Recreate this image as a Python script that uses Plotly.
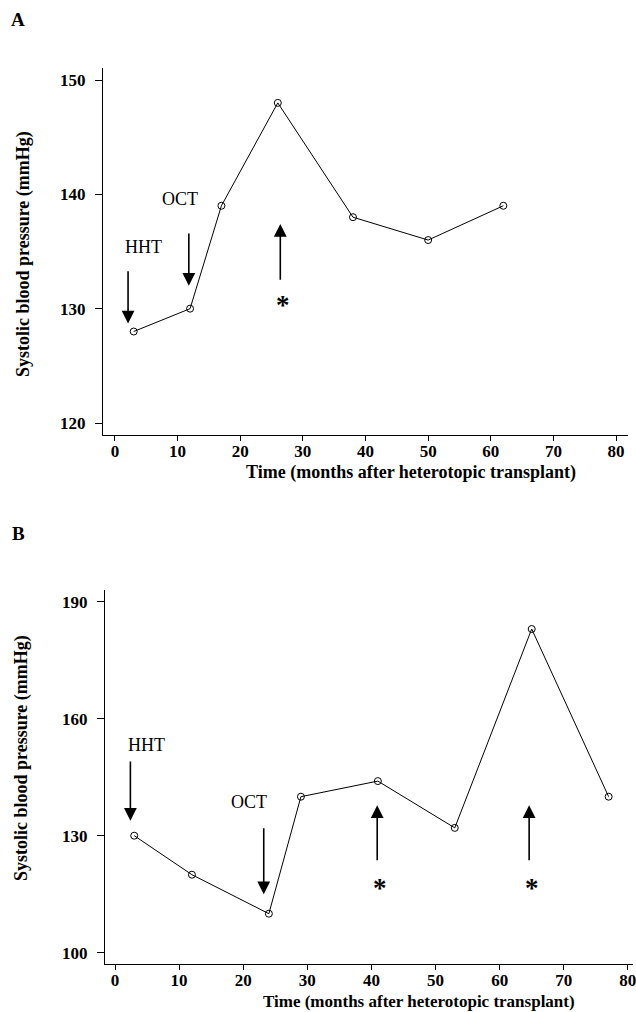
import plotly.graph_objects as go

# Panel A data
a_months = [3, 12, 17, 26, 38, 50, 62]
a_sbp = [128, 130, 139, 148, 138, 136, 139]
# Panel B data
b_months = [3, 12, 24, 29, 41, 53, 65, 77]
b_sbp = [130, 120, 110, 140, 144, 132, 183, 140]

a_yticks = [120, 130, 140, 150]
b_yticks = [100, 130, 160, 190]
x_ticks = [0, 10, 20, 30, 40, 50, 60, 70, 80]

W, H = 636, 1012
FONT = "Liberation Serif, Times New Roman, serif"

def px(v):
    return v / W

def py(v):
    return 1 - v / H

fig = go.Figure()
line_style = dict(color="black", width=1)
marker_style = dict(symbol="circle-open", size=7, color="black", line=dict(width=1))

fig.add_trace(go.Scatter(x=a_months, y=a_sbp, mode="lines+markers", line=line_style,
                         marker=marker_style, xaxis="x", yaxis="y", showlegend=False))
fig.add_trace(go.Scatter(x=b_months, y=b_sbp, mode="lines+markers", line=line_style,
                         marker=marker_style, xaxis="x2", yaxis="y2", showlegend=False))

axis_common = dict(showline=True, linecolor="black", linewidth=1, showgrid=False, zeroline=False,
                   ticks="outside", tickcolor="black", tickwidth=1, automargin=False,
                   ticklabeloverflow="allow",
                   tickfont=dict(family=FONT, size=17, color="black", weight="bold"))
x_common = dict(ticklen=5, ticklabelstandoff=-4, **axis_common)
y_common = dict(ticklen=7, ticklabelstandoff=6, **axis_common)

fig.update_layout(
    width=W, height=H,
    margin=dict(l=0, r=0, t=0, b=0),
    paper_bgcolor="white", plot_bgcolor="white",
    xaxis=dict(domain=[px(103), px(628)], range=[-1.9, 81.9], tickvals=x_ticks, anchor="y", **x_common),
    yaxis=dict(domain=[py(435), py(68)], range=[118.95, 151.05], tickvals=a_yticks, anchor="x", **y_common),
    xaxis2=dict(domain=[px(105), px(633)], range=[-1.56, 80.8], tickvals=x_ticks, anchor="y2", **x_common),
    yaxis2=dict(domain=[py(964), py(590)], range=[97.1, 193.0], tickvals=b_yticks, anchor="x2", **y_common),
)

ann = []
txt_font = dict(family=FONT, size=18, color="black")
star_font = dict(family=FONT, size=27, color="black", weight="bold")

def arrow(xr, yr, x, y_tail, y_tip):
    return dict(x=x, y=y_tip, ax=x, ay=y_tail, xref=xr, yref=yr, axref=xr, ayref=yr,
                text="", showarrow=True, arrowhead=2, arrowsize=1.6, arrowwidth=1.6,
                arrowcolor="black")

def label(xr, yr, x, y, t, f):
    return dict(x=x, y=y, xref=xr, yref=yr, text=t, showarrow=False, font=f)

# Panel A
ann += [
    label("x", "y", 4.6, 135.4, "HHT", txt_font),
    arrow("x", "y", 2.1, 133.4, 128.7),
    label("x", "y", 10.4, 139.6, "OCT", txt_font),
    arrow("x", "y", 11.8, 136.7, 132.0),
    arrow("x", "y", 26.4, 132.4, 137.4),
    label("x", "y", 26.8, 130.3, "*", star_font),
]
# Panel B
ann += [
    label("x2", "y2", 4.9, 153.3, "HHT", txt_font),
    arrow("x2", "y2", 2.4, 149.4, 133.8),
    label("x2", "y2", 20.9, 138.7, "OCT", txt_font),
    arrow("x2", "y2", 23.2, 132.3, 115.0),
    arrow("x2", "y2", 40.9, 123.3, 137.8),
    label("x2", "y2", 41.3, 116.6, "*", star_font),
    arrow("x2", "y2", 64.6, 123.3, 137.8),
    label("x2", "y2", 65.1, 116.6, "*", star_font),
]
# Panel letters
letter_font = dict(family=FONT, size=19, color="black", weight="bold")
ann += [
    dict(x=px(18), y=py(20), xref="paper", yref="paper", text="A", showarrow=False,
         xanchor="center", yanchor="middle", font=letter_font),
    dict(x=px(18), y=py(533), xref="paper", yref="paper", text="B", showarrow=False,
         xanchor="center", yanchor="middle", font=letter_font),
]
# Y axis titles
yt_font = dict(family=FONT, size=18, color="black", weight="bold")
ytitle = "Systolic blood pressure (mmHg)"
ann += [
    dict(x=px(23), y=py(254), xref="paper", yref="paper", text=ytitle, textangle=-90,
         showarrow=False, xanchor="center", yanchor="middle", font=yt_font),
    dict(x=px(21), y=py(758), xref="paper", yref="paper", text=ytitle, textangle=-90,
         showarrow=False, xanchor="center", yanchor="middle", font=yt_font),
]
# X axis titles (offset to the right as in the original)
xtitle = "Time (months after heterotopic transplant)"
ann += [
    dict(x=px(411), y=py(472), xref="paper", yref="paper", text=xtitle,
         showarrow=False, xanchor="center", yanchor="middle",
         font=dict(family=FONT, size=18, color="black", weight="bold")),
    dict(x=px(419), y=py(1001), xref="paper", yref="paper", text=xtitle,
         showarrow=False, xanchor="center", yanchor="middle",
         font=dict(family=FONT, size=17, color="black", weight="bold")),
]
fig.update_layout(annotations=ann)

fig.write_html("out.html", config={"displayModeBar": False},
               post_script="document.body.style.margin='0';document.body.style.overflow='hidden';")
